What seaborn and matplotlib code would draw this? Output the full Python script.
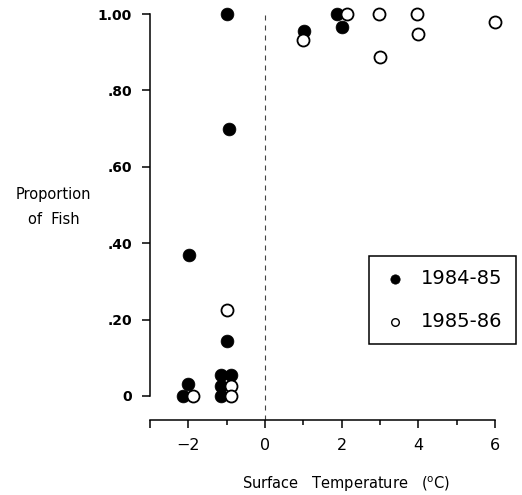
import matplotlib
matplotlib.use("Agg")
import matplotlib.pyplot as plt
import seaborn as sns
import pandas as pd

# values
temp_8485 = [-1.0, -0.94, -1.98, -1.0, -1.16, -0.89, -1.16, -1.16, -2.0, -2.15, 1.02, 1.87, 2.0]
prop_8485 = [1.00, 0.70, 0.37, 0.145, 0.055, 0.055, 0.025, 0.0, 0.03, 0.0, 0.955, 1.0, 0.967]
temp_8586 = [-0.99, -0.89, -0.89, -1.87, 1.0, 2.13, 2.98, 3.0, 3.96, 3.98, 6.0]
prop_8586 = [0.225, 0.025, 0.0, 0.0, 0.932, 1.0, 1.0, 0.888, 1.0, 0.949, 0.979]

season_labels = ["1984-85", "1985-86"]
x_ticks = [-3, -2, -1, 0, 1, 2, 3, 4, 5, 6]
x_ticklabels = ["", "\u22122", "", "0", "", "2", "", "4", "", "6"]
y_ticks = [0, 0.2, 0.4, 0.6, 0.8, 1.0]
y_ticklabels = ["0", ".20", ".40", ".60", ".80", "1.00"]

df1 = pd.DataFrame({"temp": temp_8485, "prop": prop_8485, "season": season_labels[0]})
df2 = pd.DataFrame({"temp": temp_8586, "prop": prop_8586, "season": season_labels[1]})

sns.set_style("ticks")
plt.rcParams["font.family"] = ["DejaVu Sans"]
plt.rcParams["text.color"] = "black"
plt.rcParams["xtick.color"] = "black"
plt.rcParams["ytick.color"] = "black"

fig = plt.figure(figsize=(5.22, 4.95), dpi=100)
ax = fig.add_axes([150 / 522, 75 / 495, 345 / 522, 413.6 / 495])

ax.vlines(0, -0.063, 1.0, colors="#444444", linewidth=0.8,
          linestyles=(0, (4.5, 4.5)), zorder=1)

sns.scatterplot(data=df1, x="temp", y="prop", ax=ax, color="black",
                edgecolor="black", linewidth=0.5, s=85, marker="o",
                label=season_labels[0], clip_on=False, zorder=3)
sns.scatterplot(data=df2, x="temp", y="prop", ax=ax, color="white",
                edgecolor="black", linewidth=1.3, s=75, marker="o",
                label=season_labels[1], clip_on=False, zorder=4)

ax.set_xlim(-3, 6)
ax.set_ylim(-0.063, 1.02)
ax.spines["top"].set_visible(False)
ax.spines["right"].set_visible(False)
ax.spines["left"].set_bounds(0, 1.0)
ax.spines["bottom"].set_bounds(-3, 6)
for sp in ["left", "bottom"]:
    ax.spines[sp].set_linewidth(1.1)
    ax.spines[sp].set_color("black")

ax.set_xticks(x_ticks)
ax.set_xticklabels(x_ticklabels, fontsize=11.5, color="black")
ax.set_yticks(y_ticks)
ax.set_yticklabels(y_ticklabels, fontsize=10, fontweight="bold", color="black")
ax.tick_params(axis="y", direction="out", length=6, width=1.1, pad=7, colors="black")
ax.tick_params(axis="x", direction="out", length=6, width=1.1, pad=7, colors="black")
# shorter ticks at odd degrees
for t, lab in zip(ax.xaxis.get_major_ticks(), x_ticklabels):
    if lab == "" and t.get_loc() != -3:
        t.tick1line.set_markersize(3.8)

ax.set_xlabel("")
ax.set_ylabel("")

fig.text(53 / 522, 1 - 195 / 495, "Proportion", ha="center", va="center", fontsize=10.5)
fig.text(54 / 522, 1 - 220 / 495, "of  Fish", ha="center", va="center", fontsize=10.5)
fig.text(346 / 522, 1 - 484 / 495, "Surface   Temperature   ($^{\\rm o}$C)",
         ha="center", va="center", fontsize=10.5)

leg = ax.legend(loc="center", bbox_to_anchor=(442.5 / 522, 1 - 300 / 495),
                bbox_transform=fig.transFigure, fontsize=14, frameon=True,
                fancybox=False, edgecolor="black", framealpha=1,
                labelspacing=1.2, borderpad=0.7, handlelength=1.3,
                handletextpad=0.65, borderaxespad=0)
leg.get_frame().set_linewidth(1.1)
for txt in leg.get_texts():
    txt.set_color("black")
hs = leg.legend_handles
hs[0].set_sizes([45])
hs[1].set_sizes([30])
hs[1].set_linewidth(1.0)

fig.savefig("out.png", dpi=100)
